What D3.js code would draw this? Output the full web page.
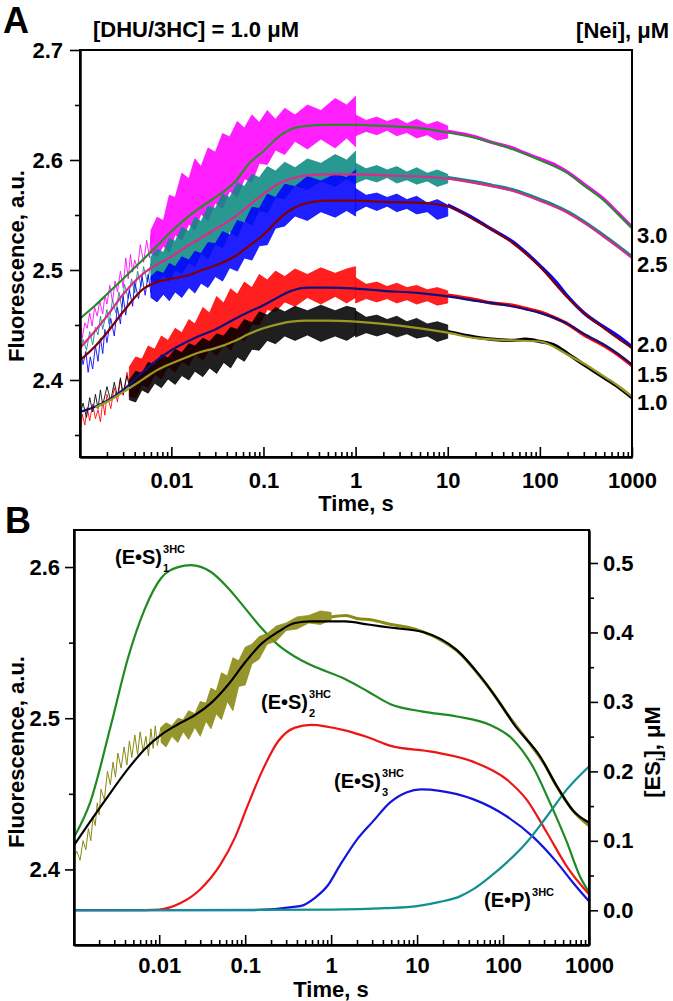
<!DOCTYPE html>
<html><head><meta charset="utf-8">
<script src="https://cdn.jsdelivr.net/npm/d3@7"></script>
<style>
body{margin:0;background:#fff}
svg{display:block}
text{font-family:"Liberation Sans",Arial,Helvetica,sans-serif;font-weight:bold;fill:#000}
</style></head>
<body><svg id="c" width="673" height="1001"></svg>
<script>
// ---------------- DATA ----------------
const xTickValues = [0.01, 0.1, 1, 10, 100, 1000];
const xTickLabels = ["0.01", "0.1", "1", "10", "100", "1000"];
const yTicksA = [2.4, 2.5, 2.6, 2.7];
const yMinorA = [2.35, 2.45, 2.55, 2.65];
const yTicksB = [2.4, 2.5, 2.6];
const yMinorB = [2.45, 2.55];
const yTicksR = [0.0, 0.1, 0.2, 0.3, 0.4, 0.5];
const yMinorR = [0.05, 0.15, 0.25, 0.35, 0.45];
const concLabels = ["3.0", "2.5", "2.0", "1.5", "1.0"];

// Panel A fitted curves
const fitTimesA = [0.00102,0.0015,0.002,0.003,0.005,0.007,0.01,0.015,0.02,0.03,0.05,0.07,0.1,0.15,0.2,0.3,0.5,1,2,5,10,20,50,100,200,300,500,700,1000];
const fit30 = [2.456,2.468,2.478,2.492,2.510,2.522,2.535,2.548,2.556,2.566,2.581,2.597,2.608,2.622,2.628,2.631,2.632,2.632,2.631,2.629,2.625,2.620,2.610,2.600,2.588,2.577,2.563,2.551,2.538];
const fit25 = [2.429,2.445,2.458,2.478,2.497,2.505,2.512,2.522,2.528,2.537,2.549,2.559,2.569,2.579,2.583,2.586,2.587,2.587,2.586,2.585,2.583,2.579,2.572,2.563,2.552,2.543,2.530,2.521,2.511];
const fit20 = [2.418,2.431,2.443,2.462,2.483,2.489,2.492,2.495,2.499,2.504,2.513,2.522,2.532,2.547,2.555,2.561,2.563,2.563,2.562,2.561,2.558,2.545,2.525,2.503,2.475,2.461,2.447,2.438,2.429];
const fit15 = [2.371,2.376,2.381,2.391,2.408,2.418,2.427,2.435,2.440,2.446,2.456,2.462,2.468,2.476,2.481,2.484,2.484,2.483,2.481,2.479,2.476,2.472,2.467,2.461,2.451,2.442,2.432,2.424,2.414];
const fit10 = [null,2.375,2.380,2.389,2.401,2.409,2.415,2.421,2.425,2.429,2.436,2.442,2.447,2.451,2.453,2.454,2.454,2.453,2.451,2.447,2.443,2.438,2.436,2.435,2.423,2.415,2.403,2.395,2.385];

// Panel A raw traces: sparse early points
const early30 = [[0.00102,2.455],[0.00108,2.438],[0.00115,2.452],[0.00122,2.447],[0.0013,2.461],[0.00138,2.449],[0.00147,2.466],[0.00157,2.458],[0.00167,2.472],[0.0018,2.46],[0.0019,2.477],[0.002,2.469],[0.00215,2.486],[0.0023,2.471],[0.00245,2.49],[0.0026,2.48],[0.0028,2.499],[0.003,2.484],[0.0032,2.511],[0.0034,2.492],[0.0036,2.514],[0.0038,2.498],[0.004,2.509],[0.0043,2.501],[0.0046,2.523],[0.005,2.507],[0.0054,2.527],[0.0058,2.511],[0.006,2.532]];
const early25 = [[0.00102,2.425],[0.0011,2.437],[0.0012,2.427],[0.0013,2.444],[0.0014,2.432],[0.0015,2.448],[0.0016,2.441],[0.0017,2.458],[0.0018,2.446],[0.002,2.464],[0.0021,2.451],[0.0023,2.473],[0.0025,2.461],[0.0027,2.48],[0.0029,2.466],[0.0031,2.487],[0.0034,2.474],[0.0037,2.492],[0.004,2.479],[0.0043,2.499],[0.0047,2.485],[0.005,2.503],[0.0055,2.489],[0.006,2.506]];
const early20 = [[0.00102,2.43],[0.0011,2.414],[0.00118,2.426],[0.00125,2.407],[0.00132,2.421],[0.0014,2.41],[0.0015,2.431],[0.0016,2.417],[0.0017,2.438],[0.0018,2.424],[0.0019,2.446],[0.002,2.434],[0.0022,2.456],[0.0024,2.44],[0.0026,2.466],[0.0028,2.451],[0.003,2.476],[0.0032,2.459],[0.0035,2.482],[0.0038,2.467],[0.004,2.489],[0.0044,2.474],[0.0048,2.494],[0.0052,2.477],[0.0056,2.496],[0.006,2.479]];
const early15 = [[0.00102,2.352],[0.00108,2.369],[0.00115,2.359],[0.00122,2.375],[0.0013,2.363],[0.0014,2.378],[0.0015,2.365],[0.0016,2.373],[0.0017,2.362],[0.0018,2.381],[0.0019,2.368],[0.002,2.387],[0.0022,2.374],[0.0024,2.393],[0.0026,2.38],[0.0028,2.4],[0.003,2.386],[0.0033,2.407],[0.0036,2.391]];
const early10 = [[0.00102,2.368],[0.0011,2.379],[0.0012,2.366],[0.0013,2.384],[0.0014,2.371],[0.0015,2.387],[0.0016,2.374],[0.0017,2.391],[0.0018,2.377],[0.002,2.394],[0.0022,2.381],[0.0024,2.398],[0.0026,2.385],[0.0028,2.402],[0.003,2.387],[0.0033,2.404],[0.0036,2.389]];

// Panel A raw traces: dense noise envelopes (low / high) up to 1 s
const bandTimesHi = [0.006,0.007,0.0082,0.0095,0.011,0.013,0.0155,0.018,0.021,0.025,0.03,0.036,0.043,0.052,0.062,0.075,0.09,0.11,0.135,0.17,0.22,0.3,0.42,0.6,0.8,1.0];
const band30Lo = [2.515,2.512,2.522,2.516,2.532,2.527,2.542,2.536,2.551,2.545,2.561,2.556,2.572,2.566,2.583,2.580,2.597,2.596,2.609,2.605,2.617,2.610,2.619,2.611,2.620,2.612];
const band30Hi = [2.536,2.548,2.545,2.568,2.566,2.588,2.583,2.601,2.594,2.611,2.607,2.624,2.621,2.635,2.629,2.641,2.634,2.645,2.637,2.647,2.641,2.650,2.645,2.656,2.650,2.658];
const band25Lo = [2.491,2.488,2.495,2.490,2.500,2.497,2.507,2.503,2.515,2.510,2.524,2.520,2.535,2.530,2.545,2.541,2.554,2.552,2.566,2.565,2.577,2.573,2.581,2.576,2.583,2.578];
const band25Hi = [2.512,2.519,2.516,2.529,2.526,2.539,2.535,2.548,2.544,2.558,2.556,2.569,2.566,2.579,2.576,2.587,2.584,2.594,2.590,2.598,2.593,2.601,2.597,2.605,2.600,2.608];
const band20Lo = [2.475,2.471,2.478,2.472,2.480,2.475,2.484,2.479,2.488,2.484,2.494,2.490,2.502,2.499,2.511,2.509,2.522,2.523,2.538,2.540,2.549,2.545,2.553,2.548,2.554,2.549];
const band20Hi = [2.494,2.499,2.497,2.506,2.503,2.512,2.509,2.517,2.515,2.525,2.524,2.535,2.532,2.545,2.543,2.557,2.556,2.569,2.566,2.578,2.576,2.585,2.581,2.587,2.584,2.591];
const bandTimesLo = [0.0035,0.0041,0.0048,0.0056,0.0066,0.0078,0.0092,0.011,0.013,0.0155,0.018,0.022,0.026,0.031,0.037,0.044,0.052,0.062,0.075,0.09,0.11,0.135,0.17,0.22,0.3,0.42,0.6,0.8,1.0];
const band15Lo = [2.385,2.384,2.396,2.393,2.405,2.401,2.412,2.407,2.417,2.413,2.424,2.418,2.428,2.422,2.433,2.427,2.440,2.435,2.451,2.450,2.464,2.462,2.471,2.467,2.475,2.469,2.476,2.470,2.475];
const band15Hi = [2.412,2.421,2.419,2.431,2.428,2.440,2.436,2.447,2.443,2.455,2.451,2.466,2.461,2.476,2.470,2.483,2.478,2.489,2.484,2.496,2.491,2.499,2.494,2.501,2.496,2.502,2.497,2.501,2.503];
const band10Lo = [2.382,2.380,2.391,2.388,2.397,2.393,2.401,2.396,2.404,2.400,2.408,2.403,2.411,2.406,2.416,2.411,2.421,2.417,2.428,2.427,2.436,2.433,2.440,2.436,2.441,2.435,2.440,2.436,2.441];
const band10Hi = [2.400,2.408,2.406,2.416,2.414,2.423,2.420,2.428,2.425,2.433,2.431,2.438,2.435,2.442,2.440,2.448,2.446,2.455,2.452,2.462,2.459,2.466,2.462,2.467,2.463,2.468,2.463,2.467,2.465];
// 1 - 10 s envelopes
const midTimes = [1.0,1.3,1.7,2.2,2.8,3.6,4.6,6,7.7,10];
const mid30Lo = [2.622,2.626,2.623,2.627,2.622,2.625,2.620,2.623,2.618,2.620];
const mid30Hi = [2.641,2.636,2.639,2.635,2.638,2.633,2.637,2.632,2.635,2.631];
const mid25Lo = [2.579,2.583,2.580,2.584,2.579,2.582,2.578,2.581,2.576,2.579];
const mid25Hi = [2.597,2.592,2.595,2.591,2.594,2.589,2.593,2.588,2.591,2.587];
const mid20Lo = [2.553,2.558,2.554,2.558,2.553,2.556,2.551,2.553,2.546,2.549];
const mid20Hi = [2.574,2.568,2.570,2.566,2.569,2.564,2.567,2.561,2.564,2.559];
const mid15Lo = [2.470,2.474,2.471,2.474,2.470,2.473,2.469,2.472,2.468,2.470];
const mid15Hi = [2.493,2.487,2.489,2.485,2.488,2.484,2.486,2.482,2.484,2.481];
const mid10Lo = [2.439,2.443,2.440,2.443,2.439,2.442,2.438,2.440,2.435,2.438];
const mid10Hi = [2.463,2.457,2.459,2.455,2.458,2.453,2.456,2.451,2.453,2.450];
// 10 - 1000 s traces
const tailTimes = [10,20,30,50,70,100,150,200,300,500,700,1000];
const tail30 = [2.626,2.621,2.616,2.611,2.606,2.601,2.595,2.589,2.578,2.564,2.552,2.539];
const tail25 = [2.584,2.580,2.577,2.573,2.569,2.564,2.558,2.553,2.544,2.531,2.522,2.512];
const tail20 = [2.559,2.546,2.537,2.526,2.516,2.504,2.489,2.476,2.461,2.448,2.440,2.430];
const tail15 = [2.477,2.473,2.470,2.468,2.465,2.462,2.456,2.451,2.441,2.431,2.423,2.413];
const tail10 = [2.444,2.439,2.437,2.436,2.437,2.435,2.431,2.424,2.414,2.402,2.394,2.384];

// Panel B
const fitB = [[0.00102,2.416],[0.0023,2.445],[0.0044,2.467],[0.0069,2.480],[0.0105,2.489],[0.0166,2.496],[0.026,2.502],[0.04,2.510],[0.063,2.522],[0.1,2.537],[0.153,2.549],[0.24,2.557],[0.38,2.563],[0.58,2.564],[1.45,2.564],[2.7,2.562],[4.8,2.560],[11.7,2.557],[29,2.545],[54,2.528],[111,2.503],[130,2.497],[268,2.475],[423,2.455],[649,2.439],[1000,2.431]];
const obsEarlyB = [[0.00102,2.408],[0.0011,2.412],[0.0012,2.406],[0.0013,2.419],[0.0014,2.413],[0.0015,2.427],[0.0016,2.419],[0.0017,2.435],[0.0018,2.429],[0.0019,2.444],[0.002,2.436],[0.0021,2.453],[0.0023,2.446],[0.0025,2.465],[0.0027,2.456],[0.0029,2.471],[0.0031,2.461],[0.0033,2.477],[0.0036,2.467],[0.0039,2.481],[0.0042,2.469],[0.0045,2.485],[0.0048,2.474],[0.0052,2.489],[0.0056,2.476],[0.006,2.491],[0.0065,2.478],[0.007,2.488],[0.0075,2.475],[0.008,2.493],[0.0085,2.480],[0.009,2.495],[0.0095,2.482],[0.0105,2.494]];
const obsBandTimesB = [0.0105,0.012,0.014,0.0165,0.019,0.022,0.026,0.03,0.035,0.04,0.046,0.053,0.062,0.072,0.084,0.1,0.12,0.145,0.18,0.23,0.3,0.4,0.55,0.75,1.0];
const obsBandLoB = [2.484,2.481,2.488,2.484,2.491,2.486,2.494,2.488,2.498,2.493,2.503,2.499,2.511,2.505,2.521,2.522,2.536,2.539,2.549,2.551,2.558,2.559,2.563,2.562,2.565];
const obsBandHiB = [2.494,2.497,2.495,2.500,2.499,2.505,2.503,2.511,2.510,2.520,2.518,2.530,2.528,2.540,2.538,2.547,2.549,2.554,2.556,2.561,2.563,2.567,2.568,2.571,2.570];
const obsTailB = [[1.0,2.567],[1.5,2.568],[2,2.566],[3,2.565],[5,2.562],[8,2.560],[12,2.557],[20,2.551],[30,2.544],[50,2.530],[80,2.515],[111,2.503],[200,2.484],[300,2.470],[420,2.455],[650,2.439],[1000,2.429]];
const es1 = [[0.00102,0.105],[0.00157,0.155],[0.00275,0.267],[0.00435,0.364],[0.00686,0.435],[0.0105,0.478],[0.0166,0.494],[0.0234,0.497],[0.0401,0.487],[0.0632,0.464],[0.0995,0.435],[0.153,0.407],[0.241,0.382],[0.38,0.365],[0.583,0.353],[1.45,0.333],[2.68,0.315],[4.83,0.297],[11.7,0.286],[29,0.279],[70,0.267],[130,0.246],[222,0.207],[351,0.155],[553,0.098],[783,0.049],[1000,0.026]];
const es2 = [[0.00102,0],[0.0048,0],[0.00995,0.001],[0.0175,0.010],[0.0299,0.030],[0.051,0.065],[0.0763,0.105],[0.108,0.152],[0.157,0.200],[0.241,0.243],[0.38,0.263],[0.583,0.267],[1.45,0.259],[2.68,0.249],[4.83,0.237],[15.3,0.228],[44.7,0.214],[111,0.188],[189,0.159],[323,0.112],[553,0.063],[1000,0.023]];
const es3 = [[0.00102,0],[0.0995,0],[0.435,0.006],[0.649,0.018],[0.918,0.036],[1.27,0.065],[1.95,0.100],[3.07,0.128],[4.83,0.155],[7.62,0.170],[11.1,0.174],[18.4,0.172],[44.7,0.160],[111,0.135],[222,0.106],[423,0.069],[649,0.040],[1000,0.013]];
const ep = [[0.00102,0],[1.0,0.001],[4.3,0.003],[10,0.006],[18.4,0.012],[31.5,0.020],[44.7,0.030],[70.3,0.048],[111,0.069],[189,0.098],[323,0.135],[553,0.174],[1000,0.207]];

// ---------------- DRAW ----------------
const svg = d3.select("#c");
const zip = (ts, vs) => ts.map((t, i) => [t, vs[i]]).filter(d => d[1] != null);
const zip3 = (ts, lo, hi) => ts.map((t, i) => [t, lo[i], hi[i]]);
const fmtX = d => xTickLabels[xTickValues.indexOf(d)];
const minorX = [];
[0.001,0.01,0.1,1,10,100].forEach(dec => { for (let k = 2; k <= 9; k++) minorX.push(dec * k); });

function styleAxis(g) {
  g.attr("font-size", 22).attr("font-family", '"Liberation Sans",Arial,sans-serif').attr("font-weight", "bold");
  g.selectAll("path.domain").attr("stroke", "#000").attr("stroke-width", 2);
  g.selectAll(".tick line").attr("stroke", "#000").attr("stroke-width", 1.6);
  g.selectAll(".tick text").attr("fill", "#000");
}

function panel(x, y, clipId) {
  const [x0, x1] = x.range(), [yb, yt] = y.range();
  svg.append("clipPath").attr("id", clipId).append("rect").attr("x", x0).attr("y", yt).attr("width", x1 - x0).attr("height", yb - yt);
  return svg.append("g").attr("clip-path", `url(#${clipId})`);
}

function drawAxes(x, y, opts) {
  const [x0, x1] = x.range(), [yb, yt] = y.range();
  svg.append("rect").attr("x", x0).attr("y", yt).attr("width", x1 - x0).attr("height", yb - yt)
    .attr("fill", "none").attr("stroke", "#000").attr("stroke-width", 2);
  const gx = svg.append("g").attr("transform", `translate(0,${yb})`)
    .call(d3.axisBottom(x).tickValues(xTickValues).tickFormat(fmtX).tickSizeInner(-10).tickSizeOuter(0).tickPadding(opts.xPad));
  styleAxis(gx);
  const gxm = svg.append("g").attr("transform", `translate(0,${yb})`)
    .call(d3.axisBottom(x).tickValues(minorX).tickFormat("").tickSizeInner(-5).tickSizeOuter(0));
  styleAxis(gxm);
  const gy = svg.append("g").attr("transform", `translate(${x0},0)`)
    .call(d3.axisLeft(y).tickValues(opts.yTicks).tickFormat(d3.format(".1f")).tickSize(opts.yTick).tickSizeOuter(0).tickPadding(opts.yPad));
  styleAxis(gy);
  const gym = svg.append("g").attr("transform", `translate(${x0},0)`)
    .call(d3.axisLeft(y).tickValues(opts.yMinor).tickFormat("").tickSize(5).tickSizeOuter(0));
  styleAxis(gym);
}

const lineGen = (x, y) => d3.line().x(d => x(d[0])).y(d => y(d[1])).curve(d3.curveMonotoneX);
const rawGen = (x, y) => d3.line().x(d => x(d[0])).y(d => y(d[1]));
const areaGen = (x, y) => d3.area().x(d => x(d[0])).y0(d => y(d[1])).y1(d => y(d[2]));

// ===== Panel A =====
const xA = d3.scaleLog().domain([0.00102, 1000]).range([80, 632]);
const yA = d3.scaleLinear().domain([2.33, 2.7]).range([457, 50]);
const gA = panel(xA, yA, "clipA");
const LA = lineGen(xA, yA), RA = rawGen(xA, yA), AA = areaGen(xA, yA);

const seriesA = [
  { raw: "#ff00ff", fit: "#2a8a2a", early: early30, bt: bandTimesHi, lo: band30Lo, hi: band30Hi, mlo: mid30Lo, mhi: mid30Hi, tail: tail30, f: fit30 },
  { raw: "#0a8a82", fit: "#dd2a8a", early: early25, bt: bandTimesHi, lo: band25Lo, hi: band25Hi, mlo: mid25Lo, mhi: mid25Hi, tail: tail25, f: fit25 },
  { raw: "#0000ff", fit: "#800000", early: early20, bt: bandTimesHi, lo: band20Lo, hi: band20Hi, mlo: mid20Lo, mhi: mid20Hi, tail: tail20, f: fit20 },
  { raw: "#ff0000", fit: "#10107a", early: early15, bt: bandTimesLo, lo: band15Lo, hi: band15Hi, mlo: mid15Lo, mhi: mid15Hi, tail: tail15, f: fit15 },
  { raw: "#000000", fit: "#9a9a22", early: early10, bt: bandTimesLo, lo: band10Lo, hi: band10Hi, mlo: mid10Lo, mhi: mid10Hi, tail: tail10, f: fit10 }
];
seriesA.forEach(s => {
  gA.append("path").attr("d", RA(s.early)).attr("fill", "none").attr("stroke", s.raw).attr("stroke-width", 1).attr("opacity", 0.85);
  gA.append("path").attr("d", AA(zip3(s.bt, s.lo, s.hi))).attr("fill", s.raw).attr("stroke", s.raw).attr("stroke-width", 0.7).attr("fill-opacity", 0.88);
  gA.append("path").attr("d", AA(zip3(midTimes, s.mlo, s.mhi))).attr("fill", s.raw).attr("stroke", s.raw).attr("stroke-width", 0.7).attr("fill-opacity", 0.88);
  gA.append("path").attr("d", LA(zip(tailTimes, s.tail))).attr("fill", "none").attr("stroke", s.raw).attr("stroke-width", 3.4);
});
seriesA.forEach(s => {
  gA.append("path").attr("d", LA(zip(fitTimesA, s.f))).attr("fill", "none").attr("stroke", s.fit).attr("stroke-width", 2.2);
});
drawAxes(xA, yA, { xPad: 15, yTicks: yTicksA, yMinor: yMinorA, yTick: 10, yPad: 7 });

// Panel A texts
svg.append("text").attr("x", 3).attr("y", 33).attr("font-size", 36).text("A");
svg.append("text").attr("x", 93).attr("y", 37).attr("font-size", 22).text("[DHU/3HC] = 1.0 \u03BCM");
svg.append("text").attr("x", 669).attr("y", 38).attr("font-size", 22).attr("text-anchor", "end").text("[Nei], \u03BCM");
const labelBaselines = [243, 272, 352, 382, 410];
concLabels.forEach((c, i) => svg.append("text").attr("x", 637).attr("y", labelBaselines[i]).attr("font-size", 22).text(c));
svg.append("text").attr("x", 356).attr("y", 511).attr("font-size", 22).attr("text-anchor", "middle").text("Time, s");
svg.append("text").attr("transform", "translate(24,266) rotate(-90)").attr("font-size", 22).attr("text-anchor", "middle").text("Fluorescence, a.u.");

// ===== Panel B =====
const xB = d3.scaleLog().domain([0.00102, 1000]).range([74, 589]);
const yB = d3.scaleLinear().domain([2.35, 2.6245]).range([945, 530]);
const yR = d3.scaleLinear().domain([-0.05, 0.5475]).range([945, 530]);
const gB = panel(xB, yB, "clipB");
const LB = lineGen(xB, yB), RB = rawGen(xB, yB), AB = areaGen(xB, yB), LR = lineGen(xB, yR);

[[es1, "#1f8a1f"], [es2, "#ee1515"], [es3, "#1414dd"], [ep, "#119090"]].forEach(([d, c]) => {
  gB.append("path").attr("d", LR(d)).attr("fill", "none").attr("stroke", c).attr("stroke-width", 2.2);
});
const oliveB = "#8a8a14";
gB.append("path").attr("d", RB(obsEarlyB)).attr("fill", "none").attr("stroke", oliveB).attr("stroke-width", 1);
gB.append("path").attr("d", AB(zip3(obsBandTimesB, obsBandLoB, obsBandHiB))).attr("fill", oliveB).attr("stroke", oliveB).attr("stroke-width", 0.7).attr("fill-opacity", 0.9);
gB.append("path").attr("d", LB(obsTailB)).attr("fill", "none").attr("stroke", oliveB).attr("stroke-width", 3);
gB.append("path").attr("d", LB(fitB)).attr("fill", "none").attr("stroke", "#000").attr("stroke-width", 2.2);

drawAxes(xB, yB, { xPad: 12, yTicks: yTicksB, yMinor: yMinorB, yTick: 9, yPad: 5 });
const gR = svg.append("g").attr("transform", "translate(589,0)")
  .call(d3.axisRight(yR).tickValues(yTicksR).tickFormat(d3.format(".1f")).tickSize(9).tickSizeOuter(0).tickPadding(5));
styleAxis(gR);
const gRm = svg.append("g").attr("transform", "translate(589,0)")
  .call(d3.axisRight(yR).tickValues(yMinorR).tickFormat("").tickSize(5).tickSizeOuter(0));
styleAxis(gRm);

// Panel B texts
svg.append("text").attr("x", 5).attr("y", 533).attr("font-size", 36).text("B");
svg.append("text").attr("x", 331).attr("y", 997).attr("font-size", 22).attr("text-anchor", "middle").text("Time, s");
svg.append("text").attr("transform", "translate(24,752) rotate(-90)").attr("font-size", 22).attr("text-anchor", "middle").text("Fluorescence, a.u.");
const rt = svg.append("text").attr("transform", "translate(660,752) rotate(-90)").attr("font-size", 22).attr("text-anchor", "middle");
rt.append("tspan").text("[ES");
rt.append("tspan").attr("font-size", 13).attr("dy", 5).text("i");
rt.append("tspan").attr("dy", -5).text("], \u03BCM");

function chem(x, y, main, sup, sub) {
  const t = svg.append("text").attr("x", x).attr("y", y).attr("font-size", 20).text(main);
  const w = t.node().getComputedTextLength();
  svg.append("text").attr("x", x + w + 1).attr("y", y - 11).attr("font-size", 11).text(sup);
  if (sub) svg.append("text").attr("x", x + w + 1).attr("y", y + 8).attr("font-size", 11).text(sub);
}
chem(115, 564, "(E\u2022S)", "3HC", "1");
chem(261, 709, "(E\u2022S)", "3HC", "2");
chem(334, 788, "(E\u2022S)", "3HC", "3");
chem(484, 907, "(E\u2022P)", "3HC", null);
</script>
</body></html>
